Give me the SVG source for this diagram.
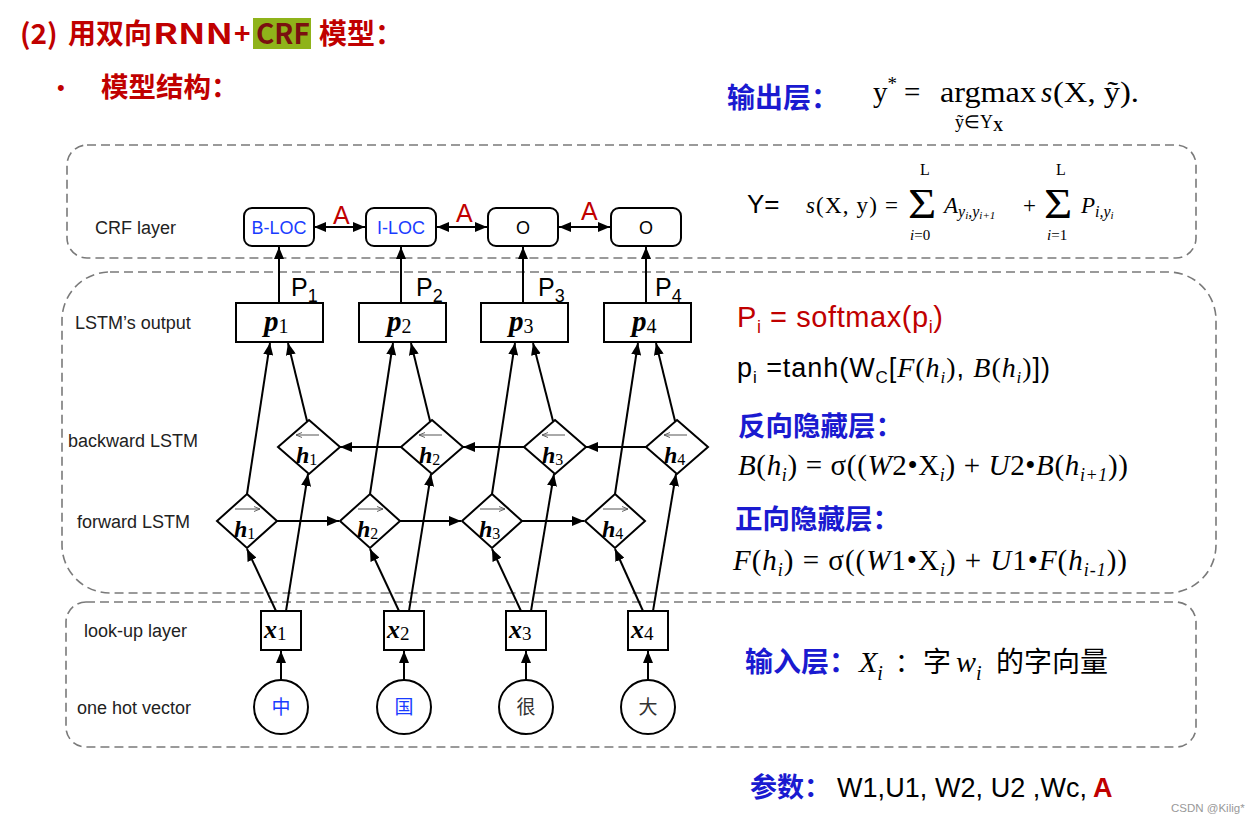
<svg xmlns="http://www.w3.org/2000/svg" width="1257" height="823" viewBox="0 0 1257 823">
<style>
.dash{fill:none;stroke:#7a7a7a;stroke-width:1.6;stroke-dasharray:9 5}
.lbl{font-family:"Liberation Sans",Arial,sans-serif;font-size:18px;fill:#222}
.box{fill:#fff;stroke:#000;stroke-width:2}
.crf{fill:#fff;stroke:#000;stroke-width:2}
.ct{font-family:"Liberation Sans",Arial,sans-serif;font-size:18px;text-anchor:middle}
.cn{stroke:#000;stroke-width:2;fill:none}
.m{font-family:"Liberation Serif","Times New Roman",serif;fill:#000}
.bi{font-weight:bold;font-style:italic}
.it{font-style:italic}
.cjkb{font-family:"Noto Sans CJK SC",sans-serif;font-weight:bold}
.cjk{font-family:"Noto Sans CJK SC",sans-serif}
.sans{font-family:"Liberation Sans",Arial,sans-serif}
.acc{stroke:#555;stroke-width:1;fill:none}
.red{fill:#c00000}
.blue{fill:#1a1ad0}
</style>
<defs>
<marker id="ah" viewBox="0 0 12 10" refX="12" refY="5" markerWidth="12" markerHeight="10" markerUnits="userSpaceOnUse" orient="auto-start-reverse"><path d="M0,0 L12,5 L0,10 z" fill="#000"/></marker>
<marker id="sa" viewBox="0 0 6 6" refX="6" refY="3" markerWidth="6" markerHeight="6" markerUnits="userSpaceOnUse" orient="auto"><path d="M0,0.5 L6,3 L0,5.5" fill="none" stroke="#555" stroke-width="0.9"/></marker>
</defs>
<rect width="1257" height="823" fill="#fff"/>

<!-- header -->
<g id="title">
<rect x="253" y="18" width="58" height="31" fill="#8fb31a"/>
<text x="20" y="44" class="cjkb red" font-size="28">(2)</text>
<text x="68" y="44" class="cjkb red" font-size="28">用双向</text>
<text x="153" y="44" class="cjkb red" font-size="28" textLength="80" lengthAdjust="spacingAndGlyphs">RNN</text>
<text x="234" y="44" class="cjkb red" font-size="28">+</text>
<text x="256" y="44" class="cjkb" font-size="28" fill="#7a1010">CRF</text>
<text x="319" y="44" class="cjkb red" font-size="28">模型：</text>
<text x="57" y="95" class="sans red" font-size="22">•</text>
<text x="101" y="97" class="cjkb red" font-size="27.5">模型结构：</text>
</g>

<!-- dashed regions -->
<g id="regions">
<rect class="dash" x="67" y="145" width="1129" height="113" rx="20"/>
<rect class="dash" x="62" y="272" width="1154" height="321" rx="48"/>
<rect class="dash" x="66" y="602" width="1130" height="145" rx="20"/>
</g>

<!-- left labels -->
<g id="labels">
<text x="95" y="234" class="lbl">CRF layer</text>
<text x="75" y="329" class="lbl">LSTM’s output</text>
<text x="68" y="447" class="lbl">backward LSTM</text>
<text x="77" y="528" class="lbl">forward LSTM</text>
<text x="84" y="637" class="lbl">look-up layer</text>
<text x="77" y="714" class="lbl">one hot vector</text>
</g>

<!-- connectors -->
<g id="connectors" class="cn">
<line x1="314" y1="227" x2="365" y2="227" marker-start="url(#ah)" marker-end="url(#ah)"/>
<line x1="437" y1="227" x2="487" y2="227" marker-start="url(#ah)" marker-end="url(#ah)"/>
<line x1="559" y1="227" x2="610" y2="227" marker-start="url(#ah)" marker-end="url(#ah)"/>
<line x1="279" y1="303" x2="279" y2="247" marker-end="url(#ah)"/>
<line x1="401" y1="303" x2="401" y2="247" marker-end="url(#ah)"/>
<line x1="523" y1="303" x2="523" y2="247" marker-end="url(#ah)"/>
<line x1="646" y1="303" x2="646" y2="247" marker-end="url(#ah)"/>
<line x1="247" y1="494" x2="270" y2="343" marker-end="url(#ah)"/>
<line x1="370" y1="494" x2="393" y2="343" marker-end="url(#ah)"/>
<line x1="492" y1="494" x2="515" y2="343" marker-end="url(#ah)"/>
<line x1="615" y1="494" x2="638" y2="343" marker-end="url(#ah)"/>
<line x1="307" y1="421" x2="288" y2="343" marker-end="url(#ah)"/>
<line x1="430" y1="421" x2="411" y2="343" marker-end="url(#ah)"/>
<line x1="553" y1="421" x2="533" y2="343" marker-end="url(#ah)"/>
<line x1="675" y1="421" x2="656" y2="343" marker-end="url(#ah)"/>
<line x1="277" y1="521" x2="339" y2="521" marker-end="url(#ah)"/>
<line x1="400" y1="521" x2="461" y2="521" marker-end="url(#ah)"/>
<line x1="522" y1="521" x2="584" y2="521" marker-end="url(#ah)"/>
<line x1="402" y1="447" x2="340" y2="447" marker-end="url(#ah)"/>
<line x1="525" y1="447" x2="463" y2="447" marker-end="url(#ah)"/>
<line x1="647" y1="447" x2="586" y2="447" marker-end="url(#ah)"/>
<line x1="276" y1="611" x2="247" y2="549" marker-end="url(#ah)"/>
<line x1="399" y1="611" x2="370" y2="549" marker-end="url(#ah)"/>
<line x1="521" y1="611" x2="492" y2="549" marker-end="url(#ah)"/>
<line x1="643" y1="611" x2="615" y2="549" marker-end="url(#ah)"/>
<line x1="286" y1="611" x2="308" y2="474" marker-end="url(#ah)"/>
<line x1="409" y1="611" x2="431" y2="474" marker-end="url(#ah)"/>
<line x1="531" y1="611" x2="554" y2="474" marker-end="url(#ah)"/>
<line x1="653" y1="611" x2="676" y2="474" marker-end="url(#ah)"/>
<line x1="281" y1="680" x2="281" y2="651" marker-end="url(#ah)"/>
<line x1="404" y1="680" x2="404" y2="651" marker-end="url(#ah)"/>
<line x1="526" y1="680" x2="526" y2="651" marker-end="url(#ah)"/>
<line x1="648" y1="680" x2="648" y2="651" marker-end="url(#ah)"/>
</g>

<!-- A labels and P labels -->
<g id="edge-labels">
<text x="333" y="224" class="sans red" font-size="25">A</text>
<text x="456" y="222" class="sans red" font-size="25">A</text>
<text x="581" y="220" class="sans red" font-size="25">A</text>
<text x="291" y="296" class="sans" font-size="25">P<tspan font-size="18" dy="6">1</tspan></text>
<text x="416" y="296" class="sans" font-size="25">P<tspan font-size="18" dy="6">2</tspan></text>
<text x="538" y="296" class="sans" font-size="25">P<tspan font-size="18" dy="6">3</tspan></text>
<text x="655" y="296" class="sans" font-size="25">P<tspan font-size="18" dy="6">4</tspan></text>
</g>

<!-- CRF nodes -->
<g id="crf1"><rect class="crf" x="244" y="208" width="70" height="38" rx="8"/><text x="279" y="234" class="ct" fill="#1a3cff">B-LOC</text></g>
<g id="crf2"><rect class="crf" x="366" y="208" width="70" height="38" rx="8"/><text x="401" y="234" class="ct" fill="#1a3cff">I-LOC</text></g>
<g id="crf3"><rect class="crf" x="488" y="208" width="70" height="38" rx="8"/><text x="523" y="234" class="ct">O</text></g>
<g id="crf4"><rect class="crf" x="611" y="208" width="70" height="38" rx="8"/><text x="646" y="234" class="ct">O</text></g>

<!-- p nodes -->
<g id="p1"><rect class="box" x="236" y="303" width="87" height="39"/><text x="264" y="331" class="m" font-size="29"><tspan class="bi">p</tspan><tspan font-size="20" dy="2">1</tspan></text></g>
<g id="p2"><rect class="box" x="359" y="303" width="87" height="39"/><text x="387" y="331" class="m" font-size="29"><tspan class="bi">p</tspan><tspan font-size="20" dy="2">2</tspan></text></g>
<g id="p3"><rect class="box" x="481" y="303" width="87" height="39"/><text x="509" y="331" class="m" font-size="29"><tspan class="bi">p</tspan><tspan font-size="20" dy="2">3</tspan></text></g>
<g id="p4"><rect class="box" x="604" y="303" width="87" height="39"/><text x="632" y="331" class="m" font-size="29"><tspan class="bi">p</tspan><tspan font-size="20" dy="2">4</tspan></text></g>

<!-- backward nodes -->
<g id="b1"><path class="box" d="M309,420 L340,447 L309,474 L278,447 Z"/><line class="acc" x1="319" y1="435" x2="296" y2="435" marker-end="url(#sa)"/><text x="296" y="463" class="m" font-size="24"><tspan class="bi">h</tspan><tspan font-size="16" dy="2">1</tspan></text></g>
<g id="b2"><path class="box" d="M432,420 L463,447 L432,474 L401,447 Z"/><line class="acc" x1="442" y1="435" x2="419" y2="435" marker-end="url(#sa)"/><text x="419" y="463" class="m" font-size="24"><tspan class="bi">h</tspan><tspan font-size="16" dy="2">2</tspan></text></g>
<g id="b3"><path class="box" d="M555,420 L586,447 L555,474 L524,447 Z"/><line class="acc" x1="565" y1="435" x2="542" y2="435" marker-end="url(#sa)"/><text x="542" y="463" class="m" font-size="24"><tspan class="bi">h</tspan><tspan font-size="16" dy="2">3</tspan></text></g>
<g id="b4"><path class="box" d="M677,420 L708,447 L677,474 L646,447 Z"/><line class="acc" x1="687" y1="435" x2="664" y2="435" marker-end="url(#sa)"/><text x="664" y="463" class="m" font-size="24"><tspan class="bi">h</tspan><tspan font-size="16" dy="2">4</tspan></text></g>

<!-- forward nodes -->
<g id="f1"><path class="box" d="M247,494 L277,521 L247,548 L217,521 Z"/><line class="acc" x1="235" y1="509" x2="260" y2="509" marker-end="url(#sa)"/><text x="234" y="537" class="m" font-size="24"><tspan class="bi">h</tspan><tspan font-size="16" dy="2">1</tspan></text></g>
<g id="f2"><path class="box" d="M370,494 L400,521 L370,548 L340,521 Z"/><line class="acc" x1="358" y1="509" x2="383" y2="509" marker-end="url(#sa)"/><text x="357" y="537" class="m" font-size="24"><tspan class="bi">h</tspan><tspan font-size="16" dy="2">2</tspan></text></g>
<g id="f3"><path class="box" d="M492,494 L522,521 L492,548 L462,521 Z"/><line class="acc" x1="480" y1="509" x2="505" y2="509" marker-end="url(#sa)"/><text x="479" y="537" class="m" font-size="24"><tspan class="bi">h</tspan><tspan font-size="16" dy="2">3</tspan></text></g>
<g id="f4"><path class="box" d="M615,494 L645,521 L615,548 L585,521 Z"/><line class="acc" x1="603" y1="509" x2="628" y2="509" marker-end="url(#sa)"/><text x="602" y="537" class="m" font-size="24"><tspan class="bi">h</tspan><tspan font-size="16" dy="2">4</tspan></text></g>

<!-- x nodes -->
<g id="x1"><rect class="box" x="261" y="611" width="40" height="39"/><text x="264" y="638" class="m" font-size="26"><tspan class="bi">x</tspan><tspan font-size="19" dy="2">1</tspan></text></g>
<g id="x2"><rect class="box" x="384" y="611" width="40" height="39"/><text x="387" y="638" class="m" font-size="26"><tspan class="bi">x</tspan><tspan font-size="19" dy="2">2</tspan></text></g>
<g id="x3"><rect class="box" x="506" y="611" width="40" height="39"/><text x="509" y="638" class="m" font-size="26"><tspan class="bi">x</tspan><tspan font-size="19" dy="2">3</tspan></text></g>
<g id="x4"><rect class="box" x="628" y="611" width="40" height="39"/><text x="631" y="638" class="m" font-size="26"><tspan class="bi">x</tspan><tspan font-size="19" dy="2">4</tspan></text></g>

<!-- one-hot nodes -->
<g id="c1"><circle class="box" cx="281" cy="707" r="27"/><text x="281" y="714" class="cjk" font-size="19" text-anchor="middle" fill="#1a3cff">中</text></g>
<g id="c2"><circle class="box" cx="404" cy="707" r="27"/><text x="404" y="714" class="cjk" font-size="19" text-anchor="middle" fill="#1a3cff">国</text></g>
<g id="c3"><circle class="box" cx="526" cy="707" r="27"/><text x="526" y="714" class="cjk" font-size="19" text-anchor="middle" fill="#333">很</text></g>
<g id="c4"><circle class="box" cx="648" cy="707" r="27"/><text x="648" y="714" class="cjk" font-size="19" text-anchor="middle" fill="#333">大</text></g>

<!-- right side equations -->
<g id="output-eq">
<text x="727" y="108" class="cjkb blue" font-size="28">输出层：</text>
<text x="873" y="102" class="m" font-size="29">y<tspan font-size="19" dy="-12">*</tspan></text>
<text x="904" y="102" class="m" font-size="29">=</text>
<text x="940" y="102" class="m" font-size="29" textLength="96" lengthAdjust="spacingAndGlyphs">argmax</text>
<text x="1041" y="102" class="m it" font-size="29">s</text>
<text x="1053" y="102" class="m" font-size="29" textLength="86" lengthAdjust="spacingAndGlyphs">(X, ỹ).</text>
<text x="955" y="128" class="m" font-size="18">ỹ∈Y<tspan font-weight="bold" font-size="14" dy="3">X</tspan></text>
</g>
<g id="score-eq">
<text x="747" y="213" class="sans" font-size="26">Y=</text>
<text x="806" y="213" class="m" font-size="23" textLength="92" lengthAdjust="spacing"><tspan class="it">s</tspan>(X, y) =</text>
<text class="m" font-size="36" transform="translate(908,218) scale(1.35,1.2)">Σ</text>
<text x="920" y="175" class="m" font-size="16">L</text>
<text x="910" y="240" class="m" font-size="15"><tspan class="it">i</tspan>=0</text>
<text x="944" y="213" class="m" font-size="23"><tspan class="it">A</tspan><tspan class="it" font-size="16" dy="4">y</tspan><tspan class="it" font-size="11" dy="2">i</tspan><tspan class="it" font-size="16" dy="-2">,y</tspan><tspan class="it" font-size="11" dy="2">i+1</tspan></text>
<text x="1023" y="213" class="m" font-size="23">+</text>
<text class="m" font-size="36" transform="translate(1044,218) scale(1.35,1.2)">Σ</text>
<text x="1056" y="175" class="m" font-size="16">L</text>
<text x="1047" y="240" class="m" font-size="15"><tspan class="it">i</tspan>=1</text>
<text x="1081" y="213" class="m" font-size="23"><tspan class="it">P</tspan><tspan class="it" font-size="16" dy="4">i,y</tspan><tspan class="it" font-size="11" dy="2">i</tspan></text>
</g>
<g id="softmax-eq">
<text x="737" y="327" class="sans red" font-size="29" textLength="206" lengthAdjust="spacing">P<tspan font-size="18" dy="6">i</tspan><tspan dy="-6"> = softmax(p</tspan><tspan font-size="18" dy="6">i</tspan><tspan dy="-6">)</tspan></text>
<text x="737" y="377" class="sans" font-size="27" textLength="313" lengthAdjust="spacing">p<tspan font-size="17" dy="6">i</tspan><tspan dy="-6"> =tanh(W</tspan><tspan font-size="17" dy="6">C</tspan><tspan dy="-6">[</tspan><tspan class="m it" font-size="28">F</tspan><tspan class="m" font-size="28">(</tspan><tspan class="m it" font-size="28">h</tspan><tspan class="m it" font-size="17" dy="6">i</tspan><tspan class="m" font-size="28" dy="-6">)</tspan>, <tspan class="m it" font-size="28">B</tspan><tspan class="m" font-size="28">(</tspan><tspan class="m it" font-size="28">h</tspan><tspan class="m it" font-size="17" dy="6">i</tspan><tspan class="m" font-size="28" dy="-6">)</tspan>])</text>
</g>
<g id="backward-eq">
<text x="738" y="436" class="cjkb blue" font-size="27.5">反向隐藏层：</text>
<text x="738" y="475" class="m" font-size="29" textLength="390" lengthAdjust="spacing"><tspan class="it">B</tspan>(<tspan class="it">h</tspan><tspan class="it" font-size="18" dy="6">i</tspan><tspan dy="-6">) = σ((</tspan><tspan class="it">W</tspan>2•X<tspan class="it" font-size="18" dy="6">i</tspan><tspan dy="-6">) + </tspan><tspan class="it">U</tspan>2•<tspan class="it">B</tspan>(<tspan class="it">h</tspan><tspan class="it" font-size="18" dy="6">i+1</tspan><tspan dy="-6">))</tspan></text>
</g>
<g id="forward-eq">
<text x="735" y="529" class="cjkb blue" font-size="27.5">正向隐藏层：</text>
<text x="733" y="570" class="m" font-size="29" textLength="394" lengthAdjust="spacing"><tspan class="it">F</tspan>(<tspan class="it">h</tspan><tspan class="it" font-size="18" dy="6">i</tspan><tspan dy="-6">) = σ((</tspan><tspan class="it">W</tspan>1•X<tspan class="it" font-size="18" dy="6">i</tspan><tspan dy="-6">) + </tspan><tspan class="it">U</tspan>1•<tspan class="it">F</tspan>(<tspan class="it">h</tspan><tspan class="it" font-size="18" dy="6">i-1</tspan><tspan dy="-6">))</tspan></text>
</g>
<g id="input-eq">
<text x="745" y="672" class="cjkb blue" font-size="28">输入层：</text>
<text x="859" y="672" class="m it" font-size="30">X<tspan font-size="20" dy="8">i</tspan></text>
<text x="895" y="672" class="cjk" font-size="26">：</text>
<text x="923" y="672" class="cjk" font-size="28">字</text>
<text x="956" y="672" class="m it" font-size="30">w<tspan font-size="20" dy="8">i</tspan></text>
<text x="996" y="672" class="cjk" font-size="28">的字向量</text>
</g>
<g id="params">
<text x="750" y="797" class="cjkb blue" font-size="27">参数：</text>
<text x="837" y="797" class="sans" font-size="27" textLength="250" lengthAdjust="spacing">W1,U1, W2, U2 ,Wc,</text>
<text x="1093" y="797" class="sans red" font-size="27" font-weight="bold">A</text>
</g>
<text x="1171" y="812" class="sans" font-size="11.5" fill="#999">CSDN @Kilig*</text>
</svg>
